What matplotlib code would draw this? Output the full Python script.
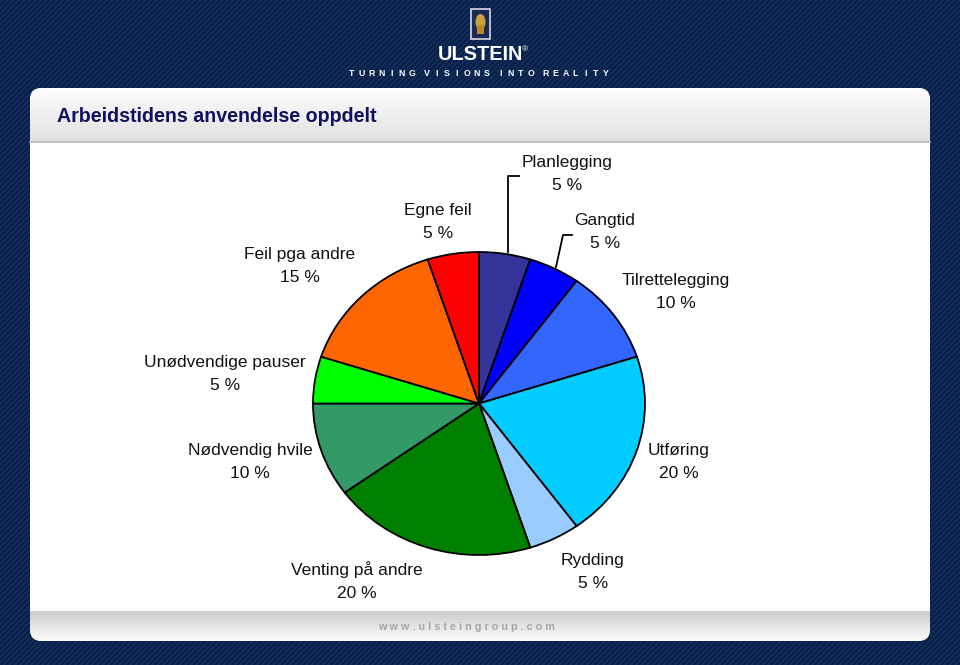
# Arbeidstidens anvendelse oppdelt - pie chart on Ulstein slide background

import numpy as np
import matplotlib.pyplot as plt
from matplotlib.patches import FancyBboxPatch, Rectangle, Ellipse
from matplotlib.collections import LineCollection

plt.rcParams['font.family'] = ['Liberation Sans', 'DejaVu Sans']

# Data (clockwise from 12 o'clock)
labels = ['Planlegging', 'Gangtid', 'Tilrettelegging', 'Utføring', 'Rydding',
          'Venting på andre', 'Nødvendig hvile', 'Unødvendige pauser',
          'Feil pga andre', 'Egne feil']
values = [5, 5, 10, 20, 5, 20, 10, 5, 15, 5]
colors = ['#333399', '#0000ff', '#3366ff', '#00ccff', '#99ccff',
          '#008000', '#339966', '#00ff00', '#ff6600', '#ff0000']

# label positions in pixels (x centre, y of first line)
label_pos = [(567, 163), (605, 221), (676, 280), (679, 451), (593, 561),
             (357, 570), (250, 451), (225, 363), (300, 255), (438, 211)]

W, H = 960, 665
fig = plt.figure(figsize=(W / 100, H / 100), dpi=100)

# background axes in pixel coordinates
bg = fig.add_axes([0, 0, 1, 1])
bg.set_xlim(0, W)
bg.set_ylim(H, 0)
bg.axis('off')
bg.add_patch(Rectangle((0, 0), W, H, color='#12305f', zorder=0))
x0 = np.arange(-H, W + 10, 5.5)
segs = [[(x, H), (x + H, 0)] for x in x0]
bg.add_collection(LineCollection(segs, colors='#0a1f47', linewidths=1.6, zorder=1))

# white panel with gradient header and footer
panel = FancyBboxPatch((30, 88), 900, 553, boxstyle='round,pad=0,rounding_size=12',
                       facecolor='white', edgecolor='none', zorder=2)
bg.add_patch(panel)
hdr = np.linspace(0.99, 0.88, 50).reshape(-1, 1)
im = bg.imshow(hdr, extent=[30, 930, 142, 88], cmap='gray', vmin=0, vmax=1,
               aspect='auto', zorder=3)
im.set_clip_path(panel)
bg.plot([30, 930], [142, 142], color='#b8b8b8', lw=1.2, zorder=4)
ftr = np.linspace(0.80, 0.99, 40).reshape(-1, 1)
im2 = bg.imshow(ftr, extent=[30, 930, 641, 611], cmap='gray', vmin=0, vmax=1,
                aspect='auto', zorder=3)
im2.set_clip_path(panel)

bg.text(57, 116, 'Arbeidstidens anvendelse oppdelt', fontsize=14.1, fontweight='bold',
        color='#10105e', va='center', ha='left', zorder=5)

# footer url, letter spaced
bg.text(466, 627, ' '.join('www.ulsteingroup.com'), fontsize=7.8, fontweight='bold',
        color='#a6a6a6', ha='center', va='center', zorder=5)

# logo
bg.add_patch(Rectangle((471, 9), 19, 30, facecolor='#1a2a55', edgecolor='#d8d8e8',
                       lw=1.2, zorder=5))
bg.add_patch(Ellipse((480.5, 22), 10, 16, facecolor='#c9a23a', edgecolor='none', zorder=6))
bg.add_patch(Rectangle((477, 25), 7, 9, facecolor='#b88a2a', edgecolor='none', zorder=6))
bg.text(480, 55, 'ULSTEIN', fontsize=14.3, fontweight='bold', color='white',
        ha='center', va='center', zorder=5)
bg.text(525, 50, '®', fontsize=6, color='white', ha='center', va='center', zorder=5)
tag = 'TURNING VISIONS INTO REALITY'
xpos = 352
for ch in tag:
    if ch == ' ':
        xpos += 4.5
        continue
    bg.text(xpos, 74, ch, fontsize=6.3, fontweight='bold', color='white',
            ha='center', va='center', zorder=5)
    xpos += 10.0

# pie axes sized so the ellipse matches (centre 479,403; rx 166, ry 151)
cx, cy, rx, ry = 479, 403.5, 166, 151.5
lim = 1.2
ax = fig.add_axes([(cx - lim * rx) / W, (H - cy - lim * ry) / H,
                   2 * lim * rx / W, 2 * lim * ry / H])
ax.pie(values, colors=colors, startangle=90, counterclock=False,
       wedgeprops=dict(edgecolor='black', linewidth=1.3))
ax.set_aspect('auto')
ax.set_xlim(-lim, lim)
ax.set_ylim(-lim, lim)
ax.axis('off')

# overlay for labels and leader lines
ov = fig.add_axes([0, 0, 1, 1])
ov.set_xlim(0, W)
ov.set_ylim(H, 0)
ov.axis('off')
ov.patch.set_alpha(0)
for lab, val, (x, y) in zip(labels, values, label_pos):
    ov.text(x, y, lab, fontsize=12.5, color='#111111', ha='center', va='center')
    ov.text(x, y + 23, f'{val} %', fontsize=12.5, color='#111111', ha='center', va='center')
ov.plot([508, 508, 519], [252, 176, 176], color='black', lw=1.3)
ov.plot([556, 563, 572], [267, 235, 235], color='black', lw=1.3)

fig.savefig('out.png', dpi=100)
